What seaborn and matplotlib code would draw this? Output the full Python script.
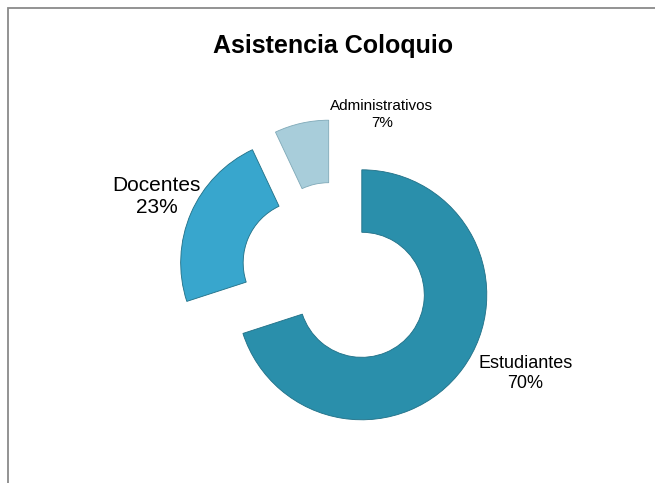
import numpy as np
import matplotlib
matplotlib.use("Agg")
import matplotlib.pyplot as plt
import seaborn as sns
from matplotlib.patches import Rectangle

sns.set_style("white")
plt.rcParams['font.family'] = ['Liberation Sans', 'DejaVu Sans']

# Data
categories = ['Estudiantes', 'Docentes', 'Administrativos']
values = [70, 23, 7]
colors = ['#2a8fab', '#38a6cd', '#a8cdda']
label_font = [13, 15, 11]

fig = plt.figure(figsize=(6.55, 4.83), dpi=100)
ax = fig.add_axes([0, 0, 1, 1])

wedges, _ = ax.pie(values, colors=colors, startangle=90, counterclock=False,
                   explode=[0.26, 0.26, 0.25], radius=1.0,
                   wedgeprops=dict(width=0.5, edgecolor='#1f6f86', linewidth=0.6))
wedges[2].set_edgecolor('#7fa9b8')

# labels placed next to the wedges
label_pos = [(1.52, -0.78), (-1.43, 0.63), (0.37, 1.29)]
for name, v, (x, y), fs in zip(categories, values, label_pos, label_font):
    ax.text(x, y, f"{name}\n{v}%", ha='center', va='center', fontsize=fs,
            multialignment='center', color='black')

ax.set_xlim(-335.5 / 125, (655 - 335.5) / 125)
ax.set_ylim((275.7 - 483) / 125, 275.7 / 125)
ax.set_aspect('equal')
ax.axis('off')

fig.text(333 / 655, 1 - 46 / 483, "Asistencia Coloquio", ha='center', va='center',
         fontsize=18, fontweight='bold', color='black')

# chart frame (cut off at right and bottom)
fig.patches.append(Rectangle((8 / 655, -0.1), 1.2, 1 - 8 / 483 + 0.1,
                             transform=fig.transFigure, fill=False,
                             edgecolor='#8a8a8a', linewidth=1.3))

fig.savefig("out.png", dpi=100)
